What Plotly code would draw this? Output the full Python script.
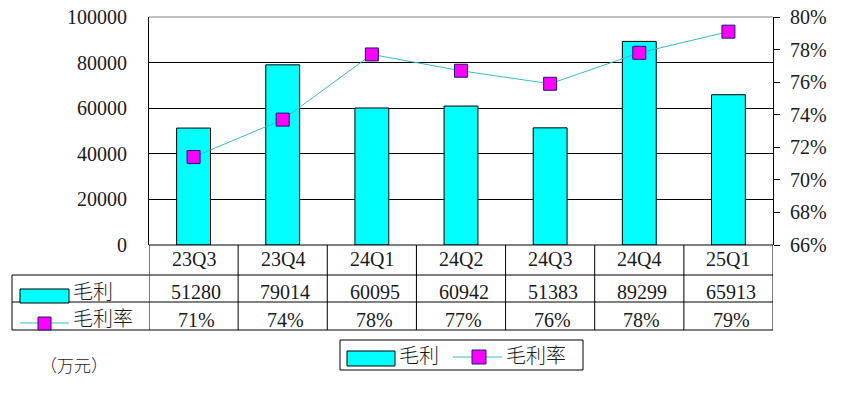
import plotly.graph_objects as go

# ---- data ----
categories = ["23Q3", "23Q4", "24Q1", "24Q2", "24Q3", "24Q4", "25Q1"]
gross_profit = [51280, 79014, 60095, 60942, 51383, 89299, 65913]
gross_margin = [71.4, 73.7, 77.7, 76.7, 75.9, 77.8, 79.1]
margin_labels = ["71%", "74%", "78%", "77%", "76%", "78%", "79%"]
series_names = ["毛利", "毛利率"]
unit_label = "（万元）"

W, H = 846, 398
FONT = "'Liberation Serif', 'Noto Sans CJK SC', serif"
FS = 20
TXT = "#1a1a1a"
BAR_FILL = "#00FFFF"
LINE_COL = "#3BB8C4"
MARK_FILL = "#FF00FF"
MARK_EDGE = "#1A1A6E"

def px(x):
    return x / W

def py(y):
    return 1 - y / H

L, R, T, B = 149, 773, 17, 245

fig = go.Figure()
fig.add_trace(go.Bar(
    x=categories, y=gross_profit, name=series_names[0],
    marker=dict(color=BAR_FILL, line=dict(color="black", width=1)),
    width=0.38, yaxis="y", showlegend=False,
))
fig.add_trace(go.Scatter(
    x=categories, y=gross_margin, name=series_names[1], mode="lines+markers",
    line=dict(color=LINE_COL, width=1),
    marker=dict(symbol="square", size=13, color=MARK_FILL,
                line=dict(color=MARK_EDGE, width=1)),
    yaxis="y2", showlegend=False, cliponaxis=False,
))

fig.update_layout(
    width=W, height=H, margin=dict(l=0, r=0, t=0, b=0, autoexpand=False),
    paper_bgcolor="white", plot_bgcolor="white",
    font=dict(family=FONT, size=FS, color=TXT),
    showlegend=False,
    xaxis=dict(domain=[px(L), px(R)], type="category", range=[-0.5, 6.5],
               showticklabels=False, showgrid=False, zeroline=False,
               showline=False, ticks="", automargin=False),
    yaxis=dict(domain=[py(B), py(T)], range=[0, 100000], dtick=20000,
               showgrid=True, gridcolor="black", gridwidth=1,
               zeroline=False, showline=True, linecolor="black", linewidth=1,
               ticks="", ticklabelstandoff=17, tickformat="d", automargin=False,
               tickfont=dict(size=FS, family=FONT, color=TXT)),
    yaxis2=dict(overlaying="y", side="right", range=[66, 80], dtick=2,
                ticksuffix="%", showgrid=False, zeroline=False,
                showline=True, linecolor="black", linewidth=1,
                ticks="outside", ticklen=6, tickcolor="black",
                ticklabelstandoff=6, automargin=False,
                tickfont=dict(size=FS, family=FONT, color=TXT)),
)

shapes = []
def hline(x0, x1, y, color="black", w=1):
    shapes.append(dict(type="line", xref="paper", yref="paper",
                       x0=px(x0), x1=px(x1), y0=py(y), y1=py(y),
                       line=dict(color=color, width=w)))

# top border (gray)
hline(L, R, T, color="#808080", w=1)
# table horizontal lines
hline(L, R, B)
hline(12, R, 275)
hline(12, R, 302)
hline(12, R, 330)
# table left vertical
shapes.append(dict(type="line", xref="paper", yref="paper",
                   x0=px(12), x1=px(12), y0=py(275), y1=py(330),
                   line=dict(color="black", width=1)))
# column dividers
for i in range(len(categories) + 1):
    shapes.append(dict(type="line", xref="x", yref="paper",
                       x0=i - 0.5, x1=i - 0.5, y0=py(B), y1=py(330),
                       line=dict(color="black", width=1)))

# table row icons
shapes.append(dict(type="rect", xref="paper", yref="paper",
                   x0=px(20), x1=px(69), y0=py(303), y1=py(289),
                   fillcolor=BAR_FILL, line=dict(color="black", width=1)))
shapes.append(dict(type="line", xref="paper", yref="paper",
                   x0=px(20), x1=px(69), y0=py(323), y1=py(323),
                   line=dict(color=LINE_COL, width=1)))
shapes.append(dict(type="rect", xref="paper", yref="paper",
                   x0=px(38), x1=px(51), y0=py(330), y1=py(317),
                   fillcolor=MARK_FILL, line=dict(color=MARK_EDGE, width=1)))

# legend box
shapes.append(dict(type="rect", xref="paper", yref="paper",
                   x0=px(340), x1=px(583), y0=py(370), y1=py(340),
                   fillcolor="rgba(0,0,0,0)", line=dict(color="black", width=1)))
shapes.append(dict(type="rect", xref="paper", yref="paper",
                   x0=px(347), x1=px(395), y0=py(366), y1=py(351),
                   fillcolor=BAR_FILL, line=dict(color="black", width=1)))
shapes.append(dict(type="line", xref="paper", yref="paper",
                   x0=px(453), x1=px(502), y0=py(357), y1=py(357),
                   line=dict(color=LINE_COL, width=1)))
shapes.append(dict(type="rect", xref="paper", yref="paper",
                   x0=px(472), x1=px(486), y0=py(364), y1=py(350),
                   fillcolor=MARK_FILL, line=dict(color=MARK_EDGE, width=1)))

annotations = []
def ann(text, x, y, xref="paper", xanchor="center", size=FS, weight=None):
    f = dict(family=FONT, size=size, color=TXT)
    if weight:
        f["weight"] = weight
    annotations.append(dict(text=text, x=x, y=y, xref=xref, yref="paper",
                            xanchor=xanchor, yanchor="middle", showarrow=False,
                            font=f))

for i, c in enumerate(categories):
    ann(c, i, py(259), xref="x")
    ann(str(gross_profit[i]), i + 0.03, py(292), xref="x")
    ann(margin_labels[i], i + 0.03, py(320), xref="x")

ann(series_names[0], px(71), py(292), xanchor="left", weight=300)
ann(series_names[1], px(71), py(319), xanchor="left", weight=300)
ann(series_names[0], px(397), py(356), xanchor="left", weight=300)
ann(series_names[1], px(504), py(356), xanchor="left", weight=300)
ann(unit_label, px(38), py(366), xanchor="left", size=17, weight=300)

fig.update_layout(shapes=shapes, annotations=annotations)
fig.write_html("out.html",
               config={"displayModeBar": False},
               post_script="document.body.style.margin='0';document.body.style.overflow='hidden';")
